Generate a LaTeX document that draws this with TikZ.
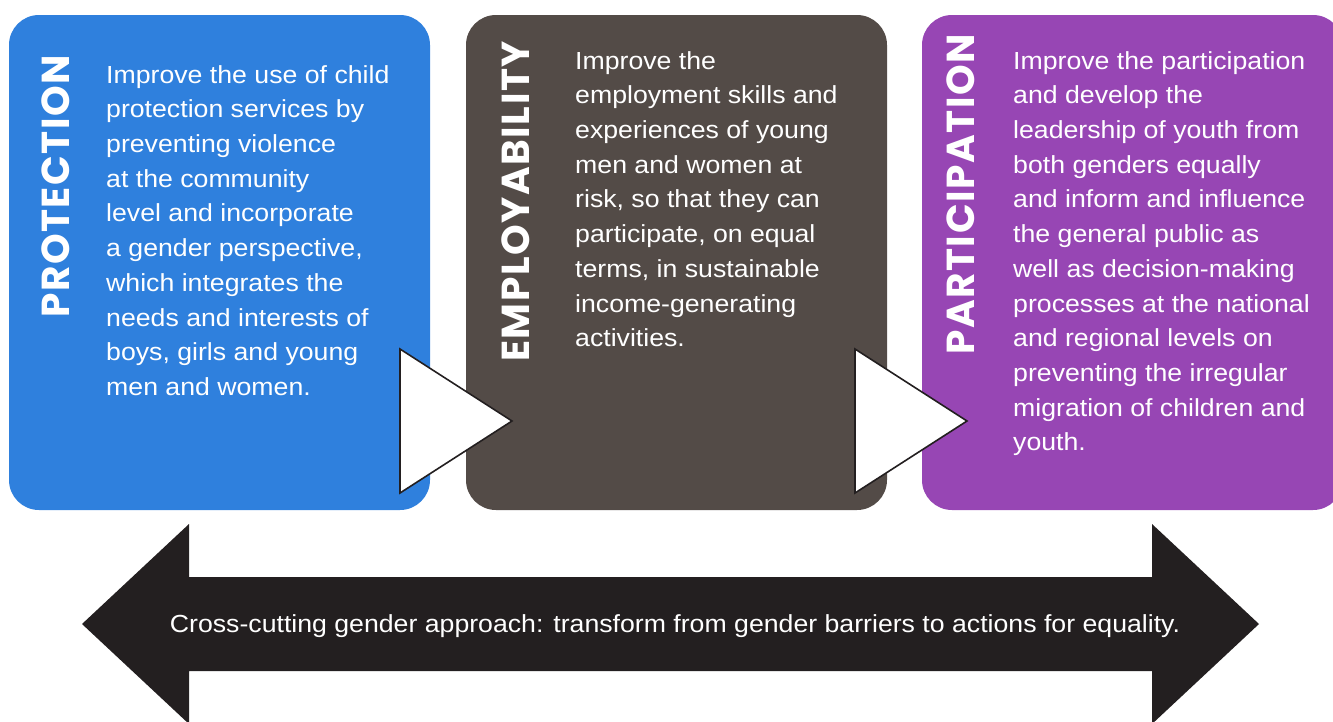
\documentclass[tikz,border=0pt]{standalone}
\usepackage{fontspec}
\setmainfont{Liberation Sans}[FakeStretch=1.08]
\newfontfamily\titlefont{Poppins}[LetterSpace=4]
\definecolor{cblue}{RGB}{47,128,221}
\definecolor{cbrown}{RGB}{83,75,71}
\definecolor{cpurple}{RGB}{151,70,180}
\definecolor{carrow}{RGB}{35,31,32}
\begin{document}
\begin{tikzpicture}[x=1pt,y=-1pt,
  box/.style={rounded corners=30pt, minimum width=421pt, minimum height=495pt, inner sep=0pt, outer sep=0pt, draw=none},
  body/.style={text=white, align=left, inner sep=0pt, font=\fontsize{24.7}{34.7}\selectfont},
  ttl/.style={text=white, rotate=90, anchor=west, inner sep=0pt, font=\titlefont\bfseries\fontsize{39}{39}\selectfont},
  tri/.style={fill=white, draw=carrow, line width=1.6pt, line join=miter}]
\useasboundingbox (0,0) rectangle (1333,721);
\clip (0,0) rectangle (1333,721);
\node[box, fill=cblue] (prot) at (219.5,262.5) {};
\node[box, fill=cbrown] (empl) at (676.5,262.5) {};
\node[box, fill=cpurple] (part) at (1132.5,262.5) {};
\node[ttl] (protT) at (56,318) {PROTECTION};
\node[ttl] (emplT) at (516,362) {EMPLOYABILITY};
\node[ttl] (partT) at (961,355) {PARTICIPATION};
\node[body, anchor=north west] (protB) at (106,65) {Improve the use of child\\protection services by\\preventing violence\\at the community\\level and incorporate\\a gender perspective,\\which integrates the\\needs and interests of\\boys, girls and young\\men and women.};
\node[body, anchor=north west] (emplB) at (575,51) {Improve the\\employment skills and\\experiences of young\\men and women at\\risk, so that they can\\participate, on equal\\terms, in sustainable\\income-generating\\activities.};
\node[body, anchor=north west] (partB) at (1013,51) {Improve the participation\\and develop the\\leadership of youth from\\both genders equally\\and inform and influence\\the general public as\\well as decision-making\\processes at the national\\and regional levels on\\preventing the irregular\\migration of children and\\youth.};
\draw[tri] (400,349) coordinate (t1a) -- (512,421) coordinate (t1b) -- (400,493) coordinate (t1c) -- cycle;
\draw[tri] (855,349) coordinate (t2a) -- (967,421) coordinate (t2b) -- (855,493) coordinate (t2c) -- cycle;
\fill[carrow] (82,624) -- (189,524) -- (189,577) -- (1152,577) -- (1152,524) -- (1259,624) -- (1152,724) -- (1152,671) -- (189,671) -- (189,724) -- cycle;
\node[text=white, inner sep=0pt, font=\fontsize{24.7}{28}\selectfont] (cross) at (675,626) {Cross-cutting gender approach: transform from gender barriers to actions for equality.};
\end{tikzpicture}
\end{document}
